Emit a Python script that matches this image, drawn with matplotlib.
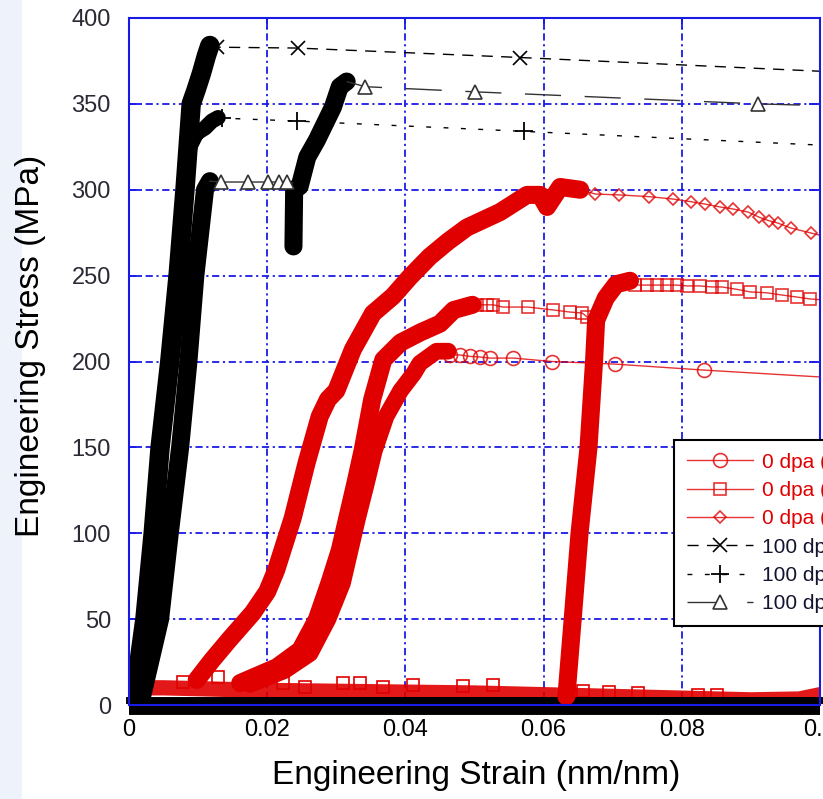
import matplotlib
matplotlib.use("Agg")
import matplotlib.pyplot as plt
from matplotlib.patches import Rectangle

plt.rcParams['font.family'] = ['Liberation Sans', 'DejaVu Sans']

RED = '#e00000'
BLUE = '#1a1ae6'

# ---- 0 dpa, circles ----
c_load_x = [0.0175, 0.0225, 0.0262, 0.0288, 0.0309, 0.0320, 0.0331, 0.0343, 0.0355, 0.0372, 0.0393, 0.0412, 0.0421, 0.0445, 0.0462]
c_load_y = [12, 20, 30, 50, 71, 90, 109, 128, 148, 168, 183, 193, 199, 206, 206]
c_tail_x = [0.0462, 0.0465, 0.0479, 0.0493, 0.0508, 0.0522, 0.0556, 0.0612, 0.0703, 0.0832, 0.1]
c_tail_y = [206, 203.8, 203.8, 203, 202.6, 202, 202, 200, 198.5, 195, 191]

# ---- 0 dpa, squares ----
s_load_x = [0.0161, 0.0214, 0.0248, 0.0272, 0.0290, 0.0305, 0.0316, 0.0327, 0.0338, 0.0352, 0.0368, 0.0393, 0.0422, 0.0450, 0.0470, 0.0497]
s_load_y = [12.8, 22, 32, 50, 71, 90, 109, 128, 148, 178, 201, 211, 217, 222, 230, 233]
s_tail_x = [0.0497, 0.0504, 0.0518, 0.0527, 0.0541, 0.0577, 0.0614, 0.0638, 0.0656, 0.0663, 0.0668]
s_tail_y = [233, 233, 233, 233, 231.7, 231.7, 230, 228.8, 228.2, 225.9, 224]
s_reload_x = [0.0633, 0.0642, 0.0652, 0.0665, 0.0673, 0.0676, 0.0690, 0.0705, 0.0725]
s_reload_y = [5, 49.5, 100, 150, 200, 224, 237, 245, 247]
s_tail2_x = [0.0725, 0.0732, 0.0750, 0.0764, 0.0779, 0.0793, 0.0808, 0.0826, 0.0844, 0.0858, 0.0880,
             0.0899, 0.0923, 0.0945, 0.0967, 0.0986, 0.1]
s_tail2_y = [247, 244.5, 244.5, 244.5, 244.5, 244.5, 244, 244, 243.4, 243.4, 242,
             240.5, 240, 238.7, 237.5, 236.4, 236]

# ---- 0 dpa, diamonds ----
d_load_x = [0.0098, 0.0120, 0.0145, 0.0179, 0.0200, 0.0213, 0.0237, 0.0257, 0.0276, 0.0288, 0.0300,
            0.0324, 0.0353, 0.0382, 0.0406, 0.0435, 0.0462, 0.0489, 0.0537, 0.0576, 0.0595, 0.0605,
            0.0624, 0.0653]
d_load_y = [14.6, 26, 38, 53.6, 66, 78.6, 109, 141, 168, 178, 183,
            207, 228, 238, 249, 261, 270, 278, 287, 297, 297, 290,
            301.6, 300]
d_tail_x = [0.0653, 0.0675, 0.0709, 0.0752, 0.0787, 0.0814, 0.0833, 0.0855, 0.0874, 0.0896,
            0.0912, 0.0926, 0.0939, 0.0958, 0.0987, 0.1]
d_tail_y = [300, 297.5, 297, 296, 294.6, 293, 291.7, 290, 288.8, 287,
            284, 282, 280.6, 277.7, 274.8, 273.5]

# ---- red baseline (unloaded part) ----
rb_x = [0.0, 0.005, 0.01, 0.02, 0.03, 0.04, 0.05, 0.06, 0.07, 0.08, 0.09, 0.097, 0.1]
rb_y = [10, 10, 9.5, 8.5, 8, 7.5, 7, 6, 5, 4, 3, 3.5, 6]
rb_sq_x = [0.0078, 0.0129, 0.0223, 0.0255, 0.0310, 0.0334, 0.0368, 0.0411, 0.0483, 0.0527, 0.0657, 0.0695, 0.0737, 0.0823, 0.0851]
rb_sq_y = [13.4, 16.3, 12.8, 10.5, 12.8, 12.8, 10.5, 11.6, 11, 11.6, 8, 7.6, 7, 5.8, 5.8]

# ---- 100 dpa, crosses ----
x_load_x = [0.0006, 0.0023, 0.0035, 0.0045, 0.0059, 0.0071, 0.0081, 0.0090, 0.0097, 0.0105, 0.0112, 0.0117]
x_load_y = [0, 50, 100, 150, 200, 250, 300, 350, 358, 368, 378, 384]
x_tail_x = [0.0117, 0.01275, 0.0244, 0.0566, 0.1]
x_tail_y = [384, 383, 382.5, 377, 369]

# ---- 100 dpa, plus ----
p_load_x = [0.0006, 0.0023, 0.0035, 0.0045, 0.0059, 0.0071, 0.0081, 0.0088, 0.0093, 0.0098, 0.0110, 0.0120, 0.0129]
p_load_y = [0, 50, 100, 150, 200, 250, 300, 325, 329, 333, 336, 340, 342]
p_tail_x = [0.0129, 0.0135, 0.0243, 0.0571, 0.1]
p_tail_y = [342, 341.7, 340, 334, 326]

# ---- 100 dpa, triangles ----
t_load_x = [0.0016, 0.0045, 0.0059, 0.0074, 0.0086, 0.0096, 0.0110, 0.0117]
t_load_y = [0, 50, 100, 150, 200, 250, 300, 305]
t_flat_x = [0.0117, 0.0133, 0.0172, 0.0201, 0.0217, 0.0228, 0.0236]
t_flat_y = [305, 304.5, 304.5, 304.5, 304.5, 304.5, 304]
t_load2_x = [0.0238, 0.0239, 0.0247, 0.0258, 0.0272, 0.0295, 0.0305, 0.0315]
t_load2_y = [267, 300, 302, 319, 329, 348, 360, 363]
t_tail_x = [0.0315, 0.0342, 0.0501, 0.0910, 0.1]
t_tail_y = [363, 360, 357, 350, 349]

fig = plt.figure(figsize=(8.23, 7.99), dpi=100)
fig.patches.append(Rectangle((0, 0), 22 / 823, 1, transform=fig.transFigure,
                             facecolor='#eef2fa', edgecolor='none', zorder=-1))
ax = fig.add_axes([129 / 823, 94 / 799, 691 / 823, 687 / 799])

thick = dict(solid_capstyle='round', solid_joinstyle='round')

# red baseline
ax.plot(rb_x, rb_y, color=RED, lw=11, alpha=0.9, **thick)
ax.plot(rb_sq_x, rb_sq_y, ls='none', marker='s', ms=8, mfc='none', mec=RED, mew=1.2)

# black baseline
ax.plot([0, 0.1], [3, 3], color='black', lw=5, clip_on=False)
ax.plot([0, 0.1], [-1.5, -1.5], color='black', lw=10, clip_on=False, solid_capstyle='butt')

# black loading curves
ax.plot(x_load_x, x_load_y, color='black', lw=14, **thick)
ax.plot(p_load_x, p_load_y, color='black', lw=11, **thick)
ax.plot(t_load_x, t_load_y, color='black', lw=13, **thick)
ax.plot(t_load2_x, t_load2_y, color='black', lw=13, **thick)

# black tails
ax.plot(x_tail_x, x_tail_y, color='black', lw=1.0, ls=(0, (8, 6)), marker='x', ms=10, mew=1.2,
        markevery=[1, 2, 3], label='100 dpa (1)')
ax.plot(p_tail_x, p_tail_y, color='black', lw=1.0, ls=(0, (3.5, 9)), marker='+', ms=13, mew=1.3,
        markevery=[1, 2, 3], label='100 dpa (2)')
ax.plot(t_flat_x, t_flat_y, color='#333333', lw=1.0, marker='^', ms=10, mfc='white', mec='#333333',
        mew=1.2, markevery=[1, 2, 3, 4, 5])
ax.plot(t_tail_x, t_tail_y, color='#333333', lw=1.0, ls=(0, (26, 17)), marker='^', ms=10, mfc='white',
        mec='#333333', mew=1.2, markevery=[1, 2, 3], label='100 dpa (3)')

# red loading curves
ax.plot(d_load_x, d_load_y, color=RED, lw=13, **thick)
ax.plot(s_load_x, s_load_y, color=RED, lw=13, **thick)
ax.plot(c_load_x, c_load_y, color=RED, lw=12, **thick)
ax.plot(s_reload_x, s_reload_y, color=RED, lw=13, **thick)

# red tails
ax.plot(c_tail_x, c_tail_y, color=RED, lw=1.0, alpha=0.8, marker='o', ms=10, mfc='none', mec=RED,
        mew=1.2, markevery=list(range(1, len(c_tail_x) - 1)), label='0 dpa (1)')
ax.plot(s_tail_x, s_tail_y, color=RED, lw=1.0, alpha=0.8, marker='s', ms=9, mfc='none', mec=RED,
        mew=1.2, markevery=list(range(1, len(s_tail_x) - 1)), label='0 dpa (2)')
ax.plot(s_tail2_x, s_tail2_y, color=RED, lw=1.0, alpha=0.8, marker='s', ms=9, mfc='none', mec=RED,
        mew=1.2, markevery=list(range(1, len(s_tail2_x) - 1)))
ax.plot(d_tail_x, d_tail_y, color=RED, lw=1.0, alpha=0.8, marker='D', ms=6.5, mfc='none', mec=RED,
        mew=1.2, markevery=list(range(1, len(d_tail_x) - 1)), label='0 dpa (3)')

ax.set_xlim(0, 0.1)
ax.set_ylim(0, 400)
ax.set_xticks([0, 0.02, 0.04, 0.06, 0.08, 0.1])
ax.set_xticklabels(['0', '0.02', '0.04', '0.06', '0.08', '0.1'])
ax.set_yticks(range(0, 401, 50))

ax.set_axisbelow(True)
ax.grid(True, color=BLUE, lw=1.3, ls=(0, (4, 2, 1.2, 2)))
for side in ['left', 'top', 'right', 'bottom']:
    ax.spines[side].set_color(BLUE)
    ax.spines[side].set_linewidth(1.5)

ax.tick_params(direction='in', length=8, width=1.3, color=BLUE, top=True, right=True)
ax.tick_params(axis='y', labelsize=17, pad=13, labelcolor='#2a2a35')
ax.tick_params(axis='x', labelsize=17, pad=10, labelcolor='black')

ax.set_xlabel('Engineering Strain (nm/nm)', fontsize=24, va='center')
ax.xaxis.set_label_coords(0.503, -0.102)
ax.set_ylabel('Engineering Stress (MPa)', fontsize=24, va='center')
ax.yaxis.set_label_coords(-0.142, 0.523)

handles, labels = ax.get_legend_handles_labels()
order = [3, 4, 5, 0, 1, 2]
leg = ax.legend([handles[i] for i in order], [labels[i] for i in order],
                loc='upper left', bbox_to_anchor=(674 / 823, 1 - 440 / 799),
                bbox_transform=fig.transFigure, borderaxespad=0, fontsize=15,
                frameon=True, fancybox=False, edgecolor='black', framealpha=1,
                handlelength=3.2, handletextpad=0.4, labelspacing=0.45, borderpad=0.6)
leg.get_frame().set_linewidth(1.5)
for i, txt in enumerate(leg.get_texts()):
    txt.set_color(RED if i < 3 else '#14142e')

fig.savefig('out.png', dpi=100)
